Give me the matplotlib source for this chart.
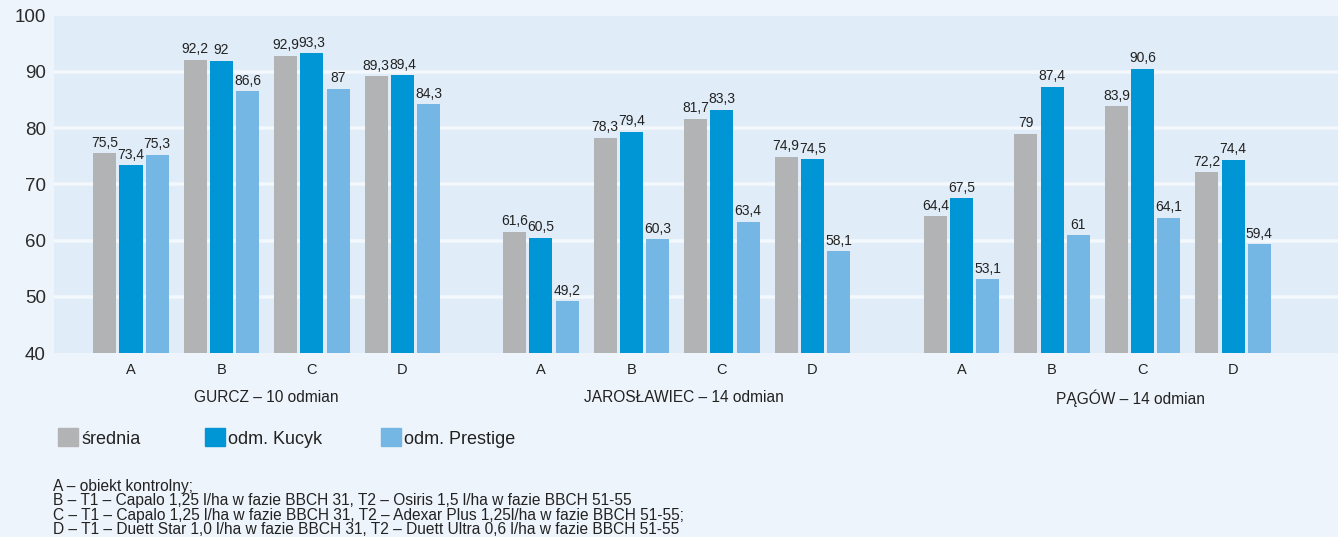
import numpy as np
import matplotlib.pyplot as plt

plt.rcParams['font.family'] = ['Liberation Sans', 'DejaVu Sans']

# wyniki dla trzech miejscowości, obiekty A-D
groups = ['GURCZ – 10 odmian', 'JAROSŁAWIEC – 14 odmian', 'PĄGÓW – 14 odmian']
objects = ['A', 'B', 'C', 'D']
series = ['średnia', 'odm. Kucyk', 'odm. Prestige']

srednia = [75.5, 92.2, 92.9, 89.3,
           61.6, 78.3, 81.7, 74.9,
           64.4, 79.0, 83.9, 72.2]
kucyk = [73.4, 92.0, 93.3, 89.4,
         60.5, 79.4, 83.3, 74.5,
         67.5, 87.4, 90.6, 74.4]
prestige = [75.3, 86.6, 87.0, 84.3,
            49.2, 60.3, 63.4, 58.1,
            53.1, 61.0, 64.1, 59.4]

notes = [
    'A – obiekt kontrolny;',
    'B – T1 – Capalo 1,25 l/ha w fazie BBCH 31, T2 – Osiris 1,5 l/ha w fazie BBCH 51-55',
    'C – T1 – Capalo 1,25 l/ha w fazie BBCH 31, T2 – Adexar Plus 1,25l/ha w fazie BBCH 51-55;',
    'D – T1 – Duett Star 1,0 l/ha w fazie BBCH 31, T2 – Duett Ultra 0,6 l/ha w fazie BBCH 51-55',
]

colors = ['#b1b3b5', '#0096d6', '#74b6e4']
fig_bg = '#eef4fb'
ax_bg = '#e0ecf7'
txt = '#222222'

group_start = [0.0, 4.53, 9.18]
label_shift = [1.5, 1.58, 1.87]
x = np.array([g + i for g in group_start for i in range(len(objects))])

fig = plt.figure(figsize=(13.38, 5.37), dpi=100, facecolor=fig_bg)
ax = fig.add_axes([0.0404, 0.3426, 0.9596, 0.628])
ax.set_facecolor(ax_bg)

width = 0.255
step = 0.29
for k, (vals, col) in enumerate(zip([srednia, kucyk, prestige], colors)):
    pos = x + (k - 1) * step
    ax.bar(pos, np.array(vals) - 40, bottom=40, width=width, color=col, zorder=3)
    for px, v in zip(pos, vals):
        ax.text(px, v + 0.6, f'{v:g}'.replace('.', ','), ha='center', va='bottom',
                fontsize=10, color=txt, zorder=4)

ax.set_ylim(40, 100)
ax.set_xlim(-0.85, 13.34)
ax.set_yticks(range(40, 101, 10))
ax.tick_params(axis='y', length=0, labelsize=13.5, labelcolor='#2a2a2a', pad=6)
ax.tick_params(axis='x', length=0, labelsize=10.5, labelcolor=txt, pad=7)
ax.set_xticks(x)
ax.set_xticklabels(objects * len(groups))
for yv in range(50, 100, 10):
    ax.axhline(yv, color='#f3f8fd', lw=2.6, zorder=1)
for s in ax.spines.values():
    s.set_visible(False)

for g, sh, name in zip(group_start, label_shift, groups):
    ax.text(g + sh, -0.133, name, transform=ax.get_xaxis_transform(),
            ha='center', va='center', fontsize=11.2, color=txt)

# legenda
leg_x = [58, 205, 381]
for lx, name, col in zip(leg_x, series, colors):
    fig.patches.append(plt.Rectangle((lx / 1338, 1 - 446 / 537), 20 / 1338, 18 / 537,
                                     transform=fig.transFigure, color=col))
    fig.text((lx + 23) / 1338, 1 - 439 / 537, name, ha='left', va='center',
             fontsize=13, color=txt)

for i, line in enumerate(notes):
    fig.text(53 / 1338, 1 - (486 + 14.6 * i) / 537, line, ha='left', va='center',
             fontsize=11.2, color=txt)

fig.savefig('out.png', dpi=100, facecolor=fig_bg)
